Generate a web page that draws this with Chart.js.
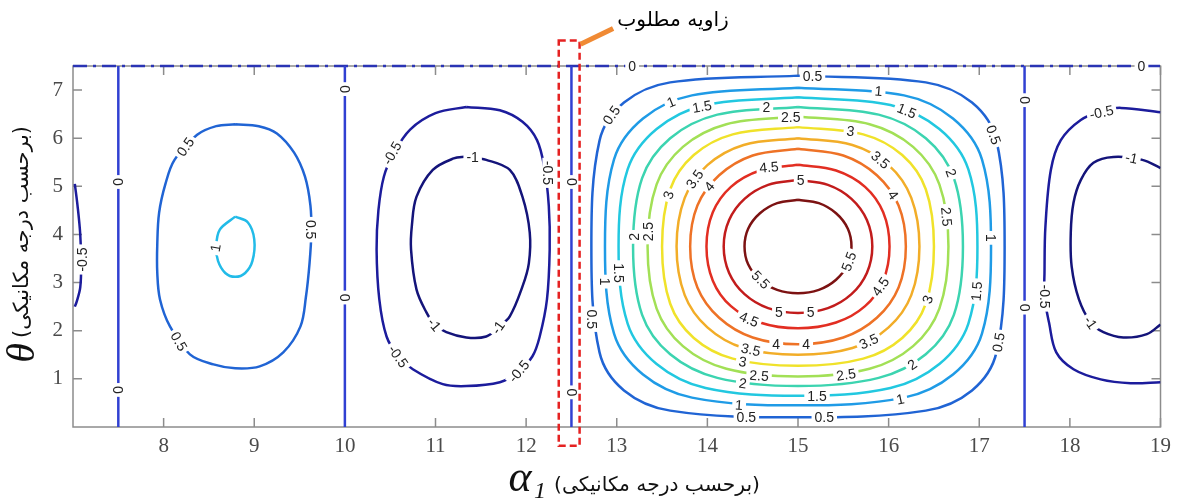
<!DOCTYPE html>
<html>
<head>
<meta charset="utf-8">
<script src="https://cdn.jsdelivr.net/npm/chart.js@4.4.1/dist/chart.umd.min.js"></script>
<style>
  body { margin: 0; background: #fff; }
  canvas { display: block; }
</style>
</head>
<body>
<canvas id="chart" width="1178" height="503"></canvas>
<script>
// axis ticks
const xTicks = [8, 9, 10, 11, 12, 13, 14, 15, 16, 17, 18, 19];
const yTicks = [1, 2, 3, 4, 5, 6, 7];

// zero-level contours (vertical lines + top edge)
const zeroLinesX = [7.5, 10, 12.5, 17.5];
const zeroSpanY = [0, 7.5];
const topZeroX = [7, 19];

// left strip, level -0.5
const leftNegX = [7.02, 7.05, 7.08, 7.09, 7.08, 7.04, 7.02];
const leftNegY = [5.05, 4.6, 4.0, 3.4, 2.9, 2.6, 2.5];

// lobe around alpha = 8.8 (levels 0.5 and 1)
const a05X = [8.79, 9.05, 9.25, 9.44, 9.56, 9.62, 9.63, 9.61, 9.57, 9.51, 9.32, 9.06, 8.79, 8.55, 8.29, 8.07, 7.96, 7.93, 7.93, 7.95, 8.02, 8.12, 8.37, 8.58, 8.79];
const a05Y = [6.29, 6.25, 6.10, 5.70, 5.20, 4.60, 4.04, 3.40, 2.70, 2.09, 1.55, 1.26, 1.22, 1.30, 1.51, 2.09, 2.65, 3.20, 3.80, 4.45, 5.05, 5.55, 6.07, 6.25, 6.29];
const a1X = [8.79, 8.93, 9.00, 8.98, 8.90, 8.79, 8.68, 8.60, 8.58, 8.62, 8.79];
const a1Y = [4.37, 4.25, 3.90, 3.45, 3.20, 3.12, 3.20, 3.45, 3.75, 4.10, 4.37];

// lobe around alpha = 11.3 (levels -0.5 and -1)
const bNeg05X = [11.34, 11.71, 11.96, 12.12, 12.20, 12.25, 12.26, 12.23, 12.15, 12.07, 11.90, 11.71, 11.34, 11.08, 10.75, 10.59, 10.46, 10.38, 10.35, 10.37, 10.43, 10.54, 10.72, 11.00, 11.34];
const bNeg05Y = [6.65, 6.58, 6.34, 5.96, 5.40, 4.60, 3.69, 2.65, 1.88, 1.47, 1.12, 0.93, 0.85, 0.89, 1.20, 1.47, 1.88, 2.65, 3.69, 4.50, 5.20, 5.69, 6.18, 6.52, 6.65];
const bNeg1X = [11.34, 11.56, 11.82, 11.96, 12.04, 12.03, 11.96, 11.82, 11.69, 11.56, 11.34, 11.12, 10.99, 10.90, 10.79, 10.73, 10.74, 10.79, 10.97, 11.20, 11.34];
const bNeg1Y = [5.62, 5.55, 5.34, 4.78, 4.04, 3.40, 2.92, 2.30, 2.07, 1.88, 1.86, 1.97, 2.13, 2.38, 2.86, 3.69, 4.20, 4.78, 5.34, 5.58, 5.62];

// main lobe around alpha = 15 (levels 0.5 .. 5.5)
const c05X = [15, 16.41, 16.92, 17.19, 17.28, 17.19, 16.92, 16.41, 15, 13.59, 13.08, 12.81, 12.72, 12.81, 13.08, 13.59, 15];
const c05Y = [7.30, 7.16, 6.74, 5.95, 3.75, 1.55, 0.76, 0.34, 0.20, 0.34, 0.76, 1.55, 3.75, 5.95, 6.74, 7.16, 7.30];
const c1X = [15, 16.17, 16.71, 17.03, 17.13, 17.03, 16.71, 16.17, 15, 13.83, 13.29, 12.97, 12.87, 12.97, 13.29, 13.83, 15];
const c1Y = [7.05, 6.89, 6.41, 5.56, 3.75, 1.94, 1.09, 0.61, 0.45, 0.61, 1.09, 1.94, 3.75, 5.56, 6.41, 6.89, 7.05];
const c15X = [15, 16.02, 16.56, 16.88, 16.98, 16.88, 16.56, 16.02, 15, 13.98, 13.44, 13.12, 13.02, 13.12, 13.44, 13.98, 15];
const c15Y = [6.85, 6.69, 6.19, 5.35, 3.75, 2.15, 1.31, 0.81, 0.65, 0.81, 1.31, 2.15, 3.75, 5.35, 6.19, 6.69, 6.85];
const c2X = [15, 15.89, 16.41, 16.72, 16.82, 16.72, 16.41, 15.89, 15, 14.11, 13.59, 13.28, 13.18, 13.28, 13.59, 14.11, 15];
const c2Y = [6.65, 6.49, 6.00, 5.17, 3.75, 2.33, 1.51, 1.02, 0.85, 1.02, 1.51, 2.33, 3.75, 5.17, 6.00, 6.49, 6.65];
const c25X = [15, 15.79, 16.27, 16.56, 16.66, 16.56, 16.27, 15.79, 15, 14.21, 13.73, 13.44, 13.34, 13.44, 13.73, 14.21, 15];
const c25Y = [6.45, 6.29, 5.82, 5.04, 3.75, 2.46, 1.68, 1.21, 1.05, 1.21, 1.68, 2.46, 3.75, 5.04, 5.82, 6.29, 6.45];
const c3X = [15, 15.72, 16.15, 16.41, 16.50, 16.41, 16.15, 15.72, 15, 14.28, 13.85, 13.59, 13.50, 13.59, 13.85, 14.28, 15];
const c3Y = [6.23, 6.08, 5.65, 4.94, 3.75, 2.56, 1.85, 1.42, 1.27, 1.42, 1.85, 2.56, 3.75, 4.94, 5.65, 6.08, 6.23];
const c35X = [15, 15.60, 16.00, 16.25, 16.34, 16.25, 16.00, 15.60, 15, 14.40, 14.00, 13.75, 13.66, 13.75, 14.00, 14.40, 15];
const c35Y = [6.00, 5.86, 5.44, 4.76, 3.75, 2.74, 2.07, 1.64, 1.50, 1.64, 2.07, 2.74, 3.75, 4.76, 5.44, 5.86, 6.00];
const c4X = [15, 15.50, 15.87, 16.11, 16.19, 16.11, 15.87, 15.50, 15, 14.50, 14.13, 13.89, 13.81, 13.89, 14.13, 14.50, 15];
const c4Y = [5.78, 5.64, 5.23, 4.60, 3.75, 2.90, 2.27, 1.86, 1.72, 1.86, 2.27, 2.90, 3.75, 4.60, 5.23, 5.64, 5.78];
const c45X = [15, 15.42, 15.74, 15.94, 16.01, 15.94, 15.74, 15.42, 15, 14.58, 14.26, 14.06, 13.99, 14.06, 14.26, 14.58, 15];
const c45Y = [5.45, 5.33, 4.99, 4.46, 3.75, 3.04, 2.51, 2.17, 2.05, 2.17, 2.51, 3.04, 3.75, 4.46, 4.99, 5.33, 5.45];
const c5X = [15, 15.33, 15.59, 15.76, 15.82, 15.76, 15.59, 15.33, 15, 14.67, 14.41, 14.24, 14.18, 14.24, 14.41, 14.67, 15];
const c5Y = [5.13, 5.03, 4.74, 4.30, 3.75, 3.20, 2.76, 2.47, 2.37, 2.47, 2.76, 3.20, 3.75, 4.30, 4.74, 5.03, 5.13];
const c55X = [15, 15.23, 15.42, 15.55, 15.59, 15.55, 15.42, 15.23, 15, 14.77, 14.58, 14.45, 14.41, 14.45, 14.58, 14.77, 15];
const c55Y = [4.72, 4.65, 4.44, 4.12, 3.75, 3.38, 3.06, 2.85, 2.78, 2.85, 3.06, 3.38, 3.75, 4.12, 4.44, 4.65, 4.72];

// right lobe (levels -0.5 and -1), cut by the right edge
const dNeg05X = [19.0, 18.56, 18.35, 18.12, 17.90, 17.79, 17.73, 17.72, 17.72, 17.77, 17.85, 18.04, 18.34, 18.67, 19.0];
const dNeg05Y = [6.54, 6.63, 6.56, 6.38, 5.96, 5.34, 4.16, 3.21, 2.71, 2.17, 1.55, 1.20, 0.99, 0.91, 0.93];
const dNeg1X = [19.0, 18.80, 18.48, 18.26, 18.12, 18.04, 18.01, 18.02, 18.10, 18.23, 18.37, 18.59, 18.85, 19.0];
const dNeg1Y = [5.38, 5.55, 5.61, 5.49, 5.13, 4.66, 4.04, 3.33, 2.65, 2.17, 1.97, 1.86, 1.93, 2.13];

// contour labels
const labelText = [
  "-0.5", "0.5", "0.5", "0.5", "1",
  "0", "0", "0", "0", "0", "0", "0", "0", "0", "0",
  "-0.5", "-1", "-0.5", "-1", "-1", "-0.5", "-0.5",
  "0.5", "1", "1.5", "2", "2.5", "3", "0.5",
  "3.5", "4", "3", "4.5", "5", "2", "2.5",
  "1", "1.5", "0.5", "2", "2.5", "3.5", "4", "1",
  "4.5", "3", "1.5", "0.5", "3.5", "2", "1",
  "5.5", "5", "5", "4", "4", "4.5", "3.5", "3", "2.5", "2.5", "2", "1.5", "1", "0.5", "0.5",
  "0.5", "1", "1.5", "5.5",
  "-0.5", "-0.5", "-1", "-1"
];
const labelX = [
  7.1, 8.24, 8.17, 9.63, 8.57,
  7.5, 7.5, 10, 10, 12.5, 12.5, 17.5, 17.5, 13.17, 18.79,
  10.52, 11.41, 12.24, 10.99, 11.69, 10.59, 11.92,
  12.94, 13.60, 13.94, 14.65, 14.92, 15.58, 15.16,
  13.86, 14.02, 13.57, 14.68, 15.03, 13.19, 13.35,
  15.89, 16.20, 17.16, 16.69, 16.64, 15.91, 16.05, 17.13,
  15.91, 16.43, 16.97, 17.21, 15.78, 16.26, 16.13,
  15.56, 14.79, 15.14, 14.76, 15.09, 14.46, 14.48, 14.39, 14.57, 15.53, 14.39, 15.21, 14.35, 14.43, 15.29,
  12.73, 12.87, 13.02, 14.59,
  18.35, 17.72, 18.68, 18.23
];
const labelY = [
  3.48, 5.82, 1.78, 4.1, 3.72,
  5.09, 0.77, 7.02, 2.69, 5.09, 0.72, 6.79, 2.48, 7.5, 7.5,
  5.69, 5.61, 5.28, 2.13, 2.07, 1.47, 1.16,
  6.48, 6.75, 6.66, 6.64, 6.44, 6.15, 7.29,
  5.15, 5.0, 4.82, 5.40, 5.13, 3.95, 4.06,
  6.98, 6.57, 6.07, 5.28, 4.37, 5.55, 4.82, 3.93,
  2.92, 2.65, 2.82, 1.76, 1.78, 1.30, 0.58,
  3.44, 2.38, 2.38, 1.73, 1.73, 2.24, 1.61, 1.36, 1.07, 1.09, 0.91, 0.65, 0.46, 0.21, 0.21,
  2.24, 3.02, 3.2, 3.06,
  6.54, 2.71, 5.59, 2.17
];
const labelAngle = [
  -90, -55, 60, 90, -80,
  90, 90, 90, 90, 90, 90, 90, 90, 0, 0,
  -60, 0, 90, 50, -55, 55, -50,
  -55, -22, -10, 0, 0, 8, 0,
  -55, -50, -72, -5, 0, -90, -90,
  5, 22, 70, 70, 85, 40, 55, 90,
  -55, -70, -85, -80, -25, -35, -12,
  -70, 0, 0, 0, 0, 22, 12, 10, 4, -8, 8, 0, 4, 0, 0,
  90, 90, 90, 45,
  -12, 90, 12, 55
];

const pts = (xs, ys) => xs.map((v, i) => ({ x: v, y: ys[i] }));

const curves = [
  [leftNegX, leftNegY, "#1c1c9c"],
  [a05X, a05Y, "#2064d4"],
  [a1X, a1Y, "#22bbe8"],
  [bNeg05X, bNeg05Y, "#1c1c9c"],
  [bNeg1X, bNeg1Y, "#14147a"],
  [c05X, c05Y, "#2064d4"],
  [c1X, c1Y, "#1f9be6"],
  [c15X, c15Y, "#22c8e0"],
  [c2X, c2Y, "#3cd4b0"],
  [c25X, c25Y, "#a2e056"],
  [c3X, c3Y, "#f0e22a"],
  [c35X, c35Y, "#f2ad28"],
  [c4X, c4Y, "#ee7226"],
  [c45X, c45Y, "#e22e22"],
  [c5X, c5Y, "#c21c1c"],
  [c55X, c55Y, "#7c1212"],
  [dNeg05X, dNeg05Y, "#1c1c9c"],
  [dNeg1X, dNeg1Y, "#14147a"]
];

const datasets = [];
zeroLinesX.forEach(v => {
  datasets.push({
    data: zeroSpanY.map(y => ({ x: v, y: y })),
    borderColor: "#3040d2",
    borderWidth: 2.5,
    showLine: true,
    pointRadius: 0
  });
});
datasets.push({
  data: topZeroX.map(x => ({ x: x, y: 7.5 })),
  borderColor: "#2a34b4",
  borderWidth: 2.5,
  borderDash: [14, 6, 3, 6],
  showLine: true,
  pointRadius: 0,
  clip: 4
});
curves.forEach(c => {
  datasets.push({
    data: pts(c[0], c[1]),
    borderColor: c[2],
    borderWidth: 2.5,
    showLine: true,
    pointRadius: 0,
    tension: 0.35
  });
});

const frame = {
  id: "frame",
  beforeDatasetsDraw(chart) {
    const { ctx, chartArea: a, scales: { x, y } } = chart;
    ctx.save();
    ctx.strokeStyle = "#8c8c8c";
    ctx.lineWidth = 1.5;
    ctx.strokeRect(a.left, a.top, a.right - a.left, a.bottom - a.top);
    ctx.beginPath();
    xTicks.forEach(v => {
      const px = x.getPixelForValue(v);
      ctx.moveTo(px, a.bottom); ctx.lineTo(px, a.bottom - 9);
      ctx.moveTo(px, a.top); ctx.lineTo(px, a.top + 9);
    });
    yTicks.forEach(v => {
      const py = y.getPixelForValue(v);
      ctx.moveTo(a.left, py); ctx.lineTo(a.left + 9, py);
      ctx.moveTo(a.right, py); ctx.lineTo(a.right - 9, py);
    });
    ctx.stroke();
    ctx.restore();
  }
};

const contourLabels = {
  id: "contourLabels",
  afterDatasetsDraw(chart) {
    const { ctx, scales: { x, y } } = chart;
    ctx.save();
    ctx.font = '14px "Liberation Sans", Arial, sans-serif';
    ctx.textAlign = "center";
    ctx.textBaseline = "middle";
    labelText.forEach((t, i) => {
      const px = x.getPixelForValue(labelX[i]);
      const py = y.getPixelForValue(labelY[i]);
      ctx.save();
      ctx.translate(px, py);
      ctx.rotate(labelAngle[i] * Math.PI / 180);
      const w = ctx.measureText(t).width + 6;
      ctx.fillStyle = "#fff";
      ctx.fillRect(-w / 2, -5.5, w, 11);
      ctx.fillStyle = "#222";
      ctx.fillText(t, 0, 1);
      ctx.restore();
    });
    ctx.restore();
  }
};

function fitText(ctx, text, family, size, width) {
  ctx.font = size + "px " + family;
  const s = size * width / ctx.measureText(text).width;
  ctx.font = s + "px " + family;
}

const titles = {
  id: "titles",
  afterDraw(chart) {
    const { ctx, scales: { x, y } } = chart;
    const fa = "(برحسب درجه مکانیکی)";
    ctx.save();
    ctx.fillStyle = "#111";
    ctx.textAlign = "center";
    ctx.textBaseline = "middle";

    // y title
    ctx.save();
    ctx.translate(23, 353);
    ctx.rotate(-Math.PI / 2);
    ctx.font = 'italic 40px "Liberation Serif", serif';
    ctx.fillText("θ", 0, 0);
    ctx.restore();
    ctx.save();
    ctx.translate(23, 232);
    ctx.rotate(-Math.PI / 2);
    fitText(ctx, fa, '"DejaVu Sans", sans-serif', 18, 212);
    ctx.fillText(fa, 0, 0);
    ctx.restore();

    // x title
    ctx.font = 'italic 44px "Liberation Serif", serif';
    ctx.fillText("α", 520, 479);
    ctx.font = 'italic 24px "Liberation Serif", serif';
    ctx.fillText("1", 540, 492);
    fitText(ctx, fa, '"DejaVu Sans", sans-serif', 18, 206);
    ctx.fillText(fa, 657, 486);

    // highlighted angle
    const l = x.getPixelForValue(12.36), r = x.getPixelForValue(12.59);
    const t = y.getPixelForValue(8.03), b = y.getPixelForValue(-0.39);
    ctx.strokeStyle = "#e52222";
    ctx.lineWidth = 2.5;
    ctx.setLineDash([7, 4]);
    ctx.strokeRect(l, t, r - l, b - t);
    ctx.setLineDash([]);
    ctx.strokeStyle = "#f08a34";
    ctx.lineWidth = 5;
    ctx.beginPath();
    ctx.moveTo(x.getPixelForValue(12.6), y.getPixelForValue(7.95));
    ctx.lineTo(x.getPixelForValue(12.96), y.getPixelForValue(8.28));
    ctx.stroke();
    ctx.fillStyle = "#000";
    fitText(ctx, "زاویه مطلوب", 'bold "DejaVu Sans", sans-serif', 20, 116);
    ctx.fillText("زاویه مطلوب", 673, 21);
    ctx.restore();
  }
};

const tickFont = { family: '"Liberation Serif", "Times New Roman", serif', size: 21 };

new Chart(document.getElementById("chart"), {
  type: "scatter",
  data: { datasets },
  options: {
    responsive: false,
    animation: false,
    devicePixelRatio: 1,
    layout: { padding: { top: 66, right: 16, left: 0, bottom: 0 } },
    plugins: { legend: { display: false }, tooltip: { enabled: false } },
    scales: {
      x: {
        type: "linear",
        min: 7,
        max: 19,
        afterBuildTicks: s => { s.ticks = xTicks.map(v => ({ value: v })); },
        afterFit: s => { s.height = 76; },
        grid: { display: false, drawTicks: false },
        border: { display: false },
        ticks: { font: tickFont, color: "#4a4a4a", padding: 7, maxRotation: 0 }
      },
      y: {
        type: "linear",
        min: 0,
        max: 7.5,
        afterBuildTicks: s => { s.ticks = yTicks.map(v => ({ value: v })); },
        afterFit: s => { s.width = 73; },
        grid: { display: false, drawTicks: false },
        border: { display: false },
        ticks: { font: tickFont, color: "#4a4a4a", padding: 10 }
      }
    }
  },
  plugins: [frame, contourLabels, titles]
});
</script>
</body>
</html>
